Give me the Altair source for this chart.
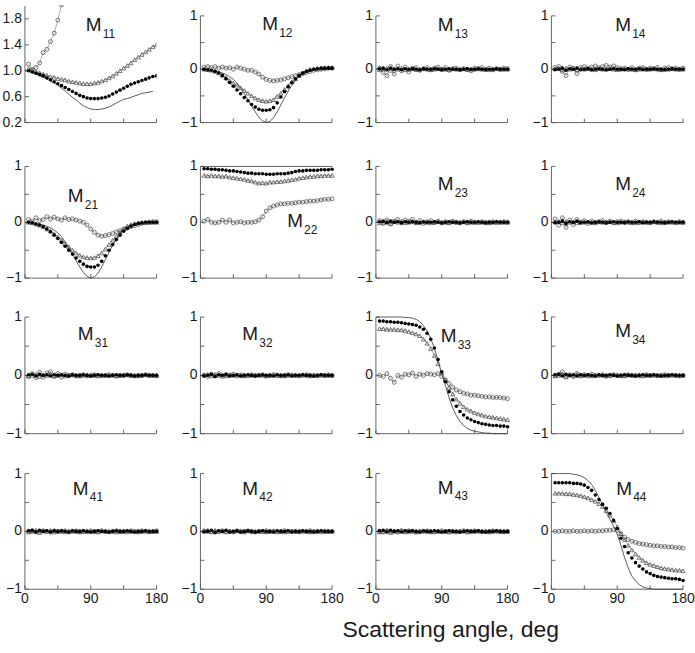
import altair as alt
import pandas as pd

# ---------------- data ----------------
ANG = [0, 5, 10, 15, 20, 25, 30, 35, 40, 45, 50, 55, 60, 65, 70, 75, 80, 85, 90,
       95, 100, 105, 110, 115, 120, 125, 130, 135, 140, 145, 150, 155, 160, 165, 170, 175, 180]
ANG_EXP = [5, 10, 15, 20, 25, 30, 35, 40, 45, 50, 55, 60, 65, 70, 75, 80, 85, 90,
           95, 100, 105, 110, 115, 120, 125, 130, 135, 140, 145, 150, 155, 160, 165, 170, 175, 180]
ANG_TH_M11 = ANG[:-1]
ANG_OPEN_M11 = [5, 10, 15, 20, 25, 30, 35, 40, 45, 50]

ZERO_TH = [0.0] * len(ANG)
ONE_TH = [1.0] * len(ANG)

TH_M11 = [1.00, 0.99, 0.97, 0.95, 0.92, 0.90, 0.87, 0.84, 0.81, 0.78, 0.73, 0.69, 0.64, 0.59, 0.55, 0.50,
          0.46, 0.43, 0.41, 0.40, 0.40, 0.41, 0.42, 0.44, 0.47, 0.50, 0.53, 0.56, 0.57, 0.59, 0.61, 0.63,
          0.65, 0.66, 0.67, 0.68]
FILLED_M11 = [1.00, 0.98, 0.96, 0.94, 0.92, 0.89, 0.86, 0.83, 0.80, 0.77, 0.74, 0.71, 0.68, 0.65, 0.62,
              0.60, 0.58, 0.57, 0.57, 0.57, 0.58, 0.59, 0.61, 0.64, 0.67, 0.70, 0.73, 0.76, 0.79, 0.81,
              0.83, 0.85, 0.87, 0.89, 0.91, 0.92]
TRI_M11 = [1.03, 1.01, 0.99, 0.97, 0.95, 0.93, 0.91, 0.90, 0.88, 0.87, 0.86, 0.84, 0.83, 0.82, 0.81, 0.80,
           0.80, 0.80, 0.81, 0.82, 0.84, 0.86, 0.89, 0.92, 0.96, 1.00, 1.04, 1.08, 1.12, 1.17, 1.21, 1.25,
           1.29, 1.33, 1.37, 1.40]
OPEN_M11 = [1.10, 1.02, 1.05, 1.12, 1.28, 1.33, 1.45, 1.58, 1.78, 2.02]

TH_M12 = [0.0, 0.0, -0.01, -0.02, -0.03, -0.05, -0.07, -0.10, -0.14, -0.19, -0.26, -0.35, -0.46, -0.57,
          -0.69, -0.80, -0.90, -0.97, -1.0, -0.98, -0.91, -0.80, -0.67, -0.54, -0.41, -0.30, -0.21, -0.14,
          -0.09, -0.05, -0.03, -0.02, -0.01, 0.0, 0.0, 0.0, 0.0]
FILLED_M12 = [0.0, -0.01, -0.02, -0.04, -0.07, -0.12, -0.18, -0.25, -0.32, -0.39, -0.46, -0.53, -0.59,
              -0.66, -0.71, -0.75, -0.77, -0.77, -0.76, -0.72, -0.63, -0.52, -0.42, -0.33, -0.25, -0.18,
              -0.12, -0.07, -0.04, -0.02, 0.0, 0.01, 0.02, 0.02, 0.02, 0.02]
TRI_M12 = [0.0, -0.01, -0.02, -0.04, -0.07, -0.11, -0.16, -0.21, -0.26, -0.30, -0.35, -0.40, -0.45, -0.50,
           -0.54, -0.57, -0.59, -0.60, -0.59, -0.57, -0.51, -0.45, -0.38, -0.31, -0.24, -0.18, -0.12, -0.07,
           -0.03, 0.0, 0.01, 0.02, 0.02, 0.03, 0.03, 0.03]
OPEN_M12 = [0.04, 0.05, 0.03, 0.05, 0.02, 0.04, 0.02, 0.03, 0.0, 0.04, 0.02, 0.0, -0.02, -0.02, -0.05,
            -0.09, -0.15, -0.19, -0.21, -0.22, -0.21, -0.20, -0.18, -0.16, -0.14, -0.12, -0.10, -0.08,
            -0.06, -0.04, -0.02, -0.01, 0.0, 0.01, 0.02, 0.02]

TH_M21 = [0.0, 0.0, -0.01, -0.02, -0.03, -0.05, -0.07, -0.10, -0.14, -0.19, -0.26, -0.35, -0.46, -0.57,
          -0.69, -0.80, -0.90, -0.97, -1.0, -0.98, -0.91, -0.80, -0.67, -0.54, -0.41, -0.30, -0.21, -0.14,
          -0.09, -0.05, -0.03, -0.02, -0.01, 0.0, 0.0, 0.0, 0.0]
FILLED_M21 = [0.0, -0.01, -0.03, -0.05, -0.08, -0.12, -0.17, -0.23, -0.29, -0.36, -0.43, -0.50, -0.57,
              -0.64, -0.70, -0.75, -0.79, -0.80, -0.80, -0.77, -0.70, -0.60, -0.50, -0.40, -0.31, -0.23,
              -0.16, -0.11, -0.07, -0.04, -0.02, -0.01, 0.0, 0.0, 0.0, 0.0]
TRI_M21 = [0.0, -0.01, -0.03, -0.05, -0.08, -0.12, -0.16, -0.21, -0.26, -0.32, -0.38, -0.44, -0.50, -0.55,
           -0.59, -0.62, -0.63, -0.64, -0.63, -0.60, -0.55, -0.48, -0.40, -0.32, -0.25, -0.18, -0.12, -0.07,
           -0.04, -0.02, -0.01, 0.0, 0.0, 0.0, 0.0, 0.0]
OPEN_M21 = [0.05, 0.02, 0.08, 0.03, 0.05, 0.10, 0.06, 0.09, 0.06, 0.04, 0.08, 0.05, 0.06, 0.04, 0.02, 0.0,
            -0.05, -0.12, -0.18, -0.23, -0.25, -0.24, -0.22, -0.20, -0.17, -0.15, -0.12, -0.10, -0.08,
            -0.06, -0.04, -0.02, -0.01, 0.0, 0.01, 0.01]

FILLED_M22 = [0.96, 0.96, 0.95, 0.95, 0.94, 0.94, 0.93, 0.92, 0.92, 0.91, 0.90, 0.89, 0.88, 0.88, 0.87,
              0.87, 0.87, 0.86, 0.86, 0.86, 0.87, 0.87, 0.87, 0.88, 0.89, 0.91, 0.92, 0.92, 0.93, 0.93,
              0.93, 0.93, 0.94, 0.94, 0.94, 0.95]
TRI_M22 = [0.84, 0.83, 0.84, 0.83, 0.83, 0.82, 0.83, 0.81, 0.80, 0.79, 0.78, 0.77, 0.75, 0.74, 0.72, 0.70,
           0.71, 0.70, 0.72, 0.72, 0.73, 0.73, 0.74, 0.75, 0.76, 0.77, 0.79, 0.80, 0.81, 0.82, 0.82, 0.83,
           0.83, 0.84, 0.84, 0.84]
OPEN_M22 = [0.02, 0.05, 0.0, -0.01, 0.0, 0.04, 0.0, 0.04, -0.01, 0.0, 0.01, -0.01, 0.0, 0.0, 0.01, 0.04,
            0.10, 0.20, 0.26, 0.29, 0.31, 0.33, 0.33, 0.34, 0.34, 0.35, 0.36, 0.36, 0.37, 0.38, 0.38, 0.39,
            0.40, 0.41, 0.41, 0.42]

TH_M33 = [1, 1, 1, 1, 1, 1, 1, 1, 0.99, 0.99, 0.98, 0.96, 0.92, 0.85, 0.76, 0.63, 0.46, 0.26, 0.03,
          -0.17, -0.38, -0.56, -0.69, -0.79, -0.86, -0.91, -0.94, -0.96, -0.97, -0.98, -0.99, -0.99, -1,
          -1, -1, -1, -1]
FILLED_M33 = [0.93, 0.93, 0.92, 0.92, 0.91, 0.91, 0.90, 0.89, 0.88, 0.87, 0.86, 0.83, 0.79, 0.72, 0.62,
              0.47, 0.27, 0.06, -0.11, -0.28, -0.42, -0.53, -0.62, -0.68, -0.73, -0.76, -0.79, -0.81,
              -0.83, -0.84, -0.85, -0.86, -0.86, -0.87, -0.87, -0.88]
TRI_M33 = [0.80, 0.80, 0.79, 0.79, 0.79, 0.78, 0.78, 0.77, 0.75, 0.73, 0.71, 0.68, 0.62, 0.55, 0.46, 0.34,
           0.20, 0.05, -0.08, -0.21, -0.32, -0.41, -0.48, -0.54, -0.58, -0.61, -0.64, -0.66, -0.68, -0.70,
           -0.71, -0.72, -0.73, -0.74, -0.75, -0.76]
OPEN_M33 = [0.0, -0.02, 0.03, -0.05, -0.12, 0.0, -0.03, 0.02, 0.01, 0.04, -0.02, 0.02, 0.0, 0.03, 0.02,
            0.01, 0.03, -0.02, -0.08, -0.14, -0.20, -0.25, -0.28, -0.31, -0.32, -0.34, -0.34, -0.35, -0.36,
            -0.37, -0.37, -0.38, -0.38, -0.38, -0.39, -0.40]

TH_M44 = [1, 1, 1, 1, 1, 1, 0.99, 0.98, 0.96, 0.93, 0.88, 0.81, 0.71, 0.59, 0.46, 0.33, 0.21, 0.09, -0.05,
          -0.24, -0.45, -0.63, -0.77, -0.86, -0.92, -0.96, -0.98, -0.99, -1, -1, -1, -1, -1, -1, -1, -1, -1]
FILLED_M44 = [0.84, 0.84, 0.84, 0.84, 0.84, 0.83, 0.83, 0.82, 0.80, 0.76, 0.71, 0.63, 0.55, 0.47, 0.40,
              0.31, 0.19, 0.05, -0.12, -0.26, -0.37, -0.46, -0.54, -0.60, -0.65, -0.70, -0.73, -0.76,
              -0.78, -0.79, -0.80, -0.81, -0.82, -0.82, -0.83, -0.85]
TRI_M44 = [0.66, 0.66, 0.66, 0.65, 0.65, 0.64, 0.63, 0.62, 0.60, 0.58, 0.55, 0.52, 0.48, 0.43, 0.36, 0.28,
           0.19, 0.08, -0.04, -0.14, -0.24, -0.32, -0.39, -0.45, -0.50, -0.54, -0.57, -0.59, -0.61, -0.63,
           -0.64, -0.65, -0.66, -0.67, -0.67, -0.68]
OPEN_M44 = [0.0, 0.0, 0.01, 0.0, 0.0, 0.01, 0.0, 0.0, 0.01, 0.0, 0.01, 0.0, 0.01, 0.01, 0.02, 0.02, 0.03,
            0.02, -0.04, -0.10, -0.14, -0.17, -0.19, -0.21, -0.22, -0.23, -0.24, -0.25, -0.25, -0.26,
            -0.26, -0.27, -0.27, -0.28, -0.28, -0.29]

NEAR0_FILLED = [0.01, 0.02, -0.01, 0.02, 0.0, 0.01, -0.01, 0.01, 0.0, 0.01, 0.0, -0.01, 0.01, 0.0, 0.0,
                0.01, 0.0, -0.01, 0.0, 0.01, 0.0, 0.0, -0.01, 0.0, 0.01, 0.0, 0.0, 0.01, 0.0, -0.01, 0.0,
                0.0, 0.01, 0.0, 0.0, 0.0]
NEAR0_TRI = [-0.01, 0.0, 0.02, -0.02, 0.01, 0.0, 0.02, -0.01, 0.0, 0.01, -0.01, 0.0, 0.01, 0.0, -0.01,
             0.0, 0.01, 0.0, 0.0, -0.01, 0.01, 0.0, 0.0, 0.01, -0.01, 0.0, 0.0, 0.01, 0.0, 0.0, -0.01, 0.0,
             0.01, 0.0, 0.0, 0.0]
OPEN_M13 = [0.02, -0.06, -0.12, 0.05, -0.09, 0.06, -0.03, 0.04, -0.05, 0.02, 0.03, -0.02, 0.01, 0.03,
            -0.01, 0.02, 0.04, 0.0, 0.03, -0.02, 0.01, 0.02, -0.01, 0.01, 0.0, -0.03, 0.02, 0.01, 0.03,
            0.0, 0.02, -0.01, 0.01, 0.0, 0.02, 0.01]
OPEN_M14 = [0.03, 0.05, -0.04, -0.12, 0.04, 0.02, -0.08, 0.03, 0.05, 0.02, 0.04, 0.06, 0.03, 0.05, 0.07,
            0.04, 0.06, 0.03, 0.01, 0.02, 0.0, 0.03, -0.01, 0.02, 0.03, 0.0, 0.02, 0.01, 0.03, -0.01, 0.02,
            0.03, 0.01, 0.02, 0.0, 0.02]
OPEN_M23 = [0.03, -0.02, 0.04, -0.03, 0.02, 0.05, -0.01, 0.04, 0.02, 0.05, 0.0, 0.03, -0.02, 0.01, 0.03,
            0.0, 0.02, -0.01, 0.01, 0.0, 0.02, 0.0, -0.01, 0.01, 0.0, 0.02, 0.0, -0.01, 0.01, 0.0, 0.0,
            0.01, -0.01, 0.0, 0.01, 0.0]
OPEN_M24 = [0.06, -0.05, 0.08, -0.09, 0.04, -0.04, 0.05, 0.0, 0.03, -0.02, 0.02, 0.0, 0.01, 0.03, 0.0,
            0.02, -0.01, 0.01, 0.02, 0.0, 0.01, -0.01, 0.02, 0.0, 0.01, 0.0, -0.01, 0.01, 0.0, 0.02, 0.0,
            0.01, 0.0, -0.01, 0.01, 0.0]
OPEN_M31 = [-0.02, 0.03, -0.04, 0.05, -0.03, 0.04, 0.06, -0.02, 0.03, -0.03, 0.02, 0.0, 0.01, -0.01, 0.0,
            0.01, -0.01, 0.0, 0.01, 0.0, -0.01, 0.0, 0.01, 0.0, -0.01, 0.0, 0.0, 0.01, 0.0, -0.01, 0.0,
            0.0, 0.01, 0.0, 0.0, -0.01]
OPEN_M32 = [0.0, -0.02, 0.02, -0.01, 0.03, -0.02, 0.01, 0.0, 0.02, -0.01, 0.01, 0.0, -0.01, 0.01, 0.0,
            0.0, 0.01, -0.01, 0.0, 0.01, 0.0, -0.01, 0.0, 0.01, 0.0, 0.0, -0.01, 0.0, 0.01, 0.0, 0.0,
            -0.01, 0.0, 0.0, 0.01, 0.0]
OPEN_M34 = [0.0, 0.02, 0.06, -0.03, 0.01, -0.02, 0.03, 0.0, 0.01, -0.01, 0.02, 0.0, 0.0, 0.01, -0.01,
            0.0, 0.01, 0.0, -0.01, 0.0, 0.01, 0.0, 0.0, -0.01, 0.0, 0.01, 0.0, 0.0, -0.01, 0.0, 0.01, 0.0,
            0.0, 0.0, -0.01, 0.0]
OPEN_M41 = [0.0, 0.01, -0.01, 0.0, 0.01, 0.0, -0.01, 0.01, 0.0, 0.0, 0.01, -0.01, 0.0, 0.01, 0.0, 0.0,
            -0.01, 0.01, 0.0, 0.0, 0.01, 0.0, -0.01, 0.0, 0.01, 0.0, 0.0, -0.01, 0.01, 0.0, 0.0, 0.01,
            0.0, -0.01, 0.0, 0.01]
OPEN_M42 = [0.01, 0.0, 0.0, -0.01, 0.0, 0.01, 0.0, 0.0, -0.01, 0.01, 0.0, 0.0, 0.01, 0.0, -0.01, 0.0,
            0.0, 0.01, 0.0, 0.0, -0.01, 0.0, 0.01, 0.0, 0.0, 0.0, -0.01, 0.0, 0.0, 0.01, 0.0, 0.0, -0.01,
            0.0, 0.0, 0.0]
OPEN_M43 = [0.0, -0.01, 0.01, 0.0, 0.0, -0.01, 0.01, 0.0, 0.01, 0.0, -0.01, 0.0, 0.0, 0.01, 0.0, -0.01,
            0.0, 0.01, 0.0, 0.0, 0.0, -0.01, 0.0, 0.01, 0.0, 0.0, 0.01, 0.0, -0.01, 0.0, 0.0, 0.01, 0.0,
            0.0, -0.01, 0.0]

PANELS = {
    "11": dict(th=(ANG_TH_M11, TH_M11), filled=FILLED_M11, tri=TRI_M11, open=(ANG_OPEN_M11, OPEN_M11)),
    "12": dict(th=(ANG, TH_M12), filled=FILLED_M12, tri=TRI_M12, open=(ANG_EXP, OPEN_M12)),
    "13": dict(th=(ANG, ZERO_TH), filled=NEAR0_FILLED, tri=NEAR0_TRI, open=(ANG_EXP, OPEN_M13)),
    "14": dict(th=(ANG, ZERO_TH), filled=NEAR0_TRI, tri=NEAR0_FILLED, open=(ANG_EXP, OPEN_M14)),
    "21": dict(th=(ANG, TH_M21), filled=FILLED_M21, tri=TRI_M21, open=(ANG_EXP, OPEN_M21)),
    "22": dict(th=(ANG, ONE_TH), filled=FILLED_M22, tri=TRI_M22, open=(ANG_EXP, OPEN_M22)),
    "23": dict(th=(ANG, ZERO_TH), filled=NEAR0_FILLED, tri=NEAR0_TRI, open=(ANG_EXP, OPEN_M23)),
    "24": dict(th=(ANG, ZERO_TH), filled=NEAR0_TRI, tri=NEAR0_FILLED, open=(ANG_EXP, OPEN_M24)),
    "31": dict(th=(ANG, ZERO_TH), filled=NEAR0_FILLED, tri=NEAR0_TRI, open=(ANG_EXP, OPEN_M31)),
    "32": dict(th=(ANG, ZERO_TH), filled=NEAR0_TRI, tri=NEAR0_FILLED, open=(ANG_EXP, OPEN_M32)),
    "33": dict(th=(ANG, TH_M33), filled=FILLED_M33, tri=TRI_M33, open=(ANG_EXP, OPEN_M33)),
    "34": dict(th=(ANG, ZERO_TH), filled=NEAR0_FILLED, tri=NEAR0_TRI, open=(ANG_EXP, OPEN_M34)),
    "41": dict(th=(ANG, ZERO_TH), filled=NEAR0_FILLED, tri=NEAR0_TRI, open=(ANG_EXP, OPEN_M41)),
    "42": dict(th=(ANG, ZERO_TH), filled=NEAR0_TRI, tri=NEAR0_FILLED, open=(ANG_EXP, OPEN_M42)),
    "43": dict(th=(ANG, ZERO_TH), filled=NEAR0_FILLED, tri=NEAR0_TRI, open=(ANG_EXP, OPEN_M43)),
    "44": dict(th=(ANG, TH_M44), filled=FILLED_M44, tri=TRI_M44, open=(ANG_EXP, OPEN_M44)),
}

X_TICKS = [0, 45, 90, 135, 180]
X_LABELS = [0, 90, 180]
X_LABEL_TEXT = ["0", "90", "180"]
Y_TICKS = [-1, -0.5, 0, 0.5, 1]
Y_LABELS = [-1, 0, 1]
Y_LABEL_TEXT = ["\u22121", "0", "1"]
Y_TICKS_M11 = [0.2, 0.6, 1.0, 1.4, 1.8]
Y_LABEL_TEXT_M11 = ["0.2", "0.6", "1.0", "1.4", "1.8"]
X_TITLE = "Scattering angle, deg"

# ---------------- styling / layout ----------------
W = 132
CELL_H = 118
ROW_H = [107, 112, 117, 116]          # height of the [-1, 1] plot area in each row
FONT = "Liberation Sans"
INK = "#1a1a1a"
AXC = "#555555"

# title position ("M" left edge, vertical centre) relative to the top of the plot area
TITLE_POS = {
    "11": (61, 19), "12": (62, 8), "13": (62, 9), "14": (64, 9),
    "21": (43, 30), "22": (87, 55), "23": (62, 18), "24": (64, 18),
    "31": (53, 17), "32": (42, 17), "33": (65, 19), "34": (64, 14),
    "41": (48, 15), "42": (42, 15), "43": (62, 14), "44": (65, 15),
}


def panel(key, plot_h, ydom=(-1, 1), ytick_vals=None, ylab_vals=None, ylab_text=None, xlab=False,
          clip=False, bottom_title=False):
    spec = PANELS[key]
    ytick_vals = ytick_vals or Y_TICKS
    ylab_vals = ylab_vals or Y_LABELS
    ylab_text = ylab_text or Y_LABEL_TEXT
    top = CELL_H - plot_h
    xs = alt.Scale(domain=[0, 180], nice=False, zero=False)
    ys = alt.Scale(domain=list(ydom), range=[CELL_H, top], nice=False, zero=False)

    def X(field="a:Q"):
        return alt.X(field, scale=xs, axis=None)

    def Y(field="v:Q"):
        return alt.Y(field, scale=ys, axis=None)

    # --- hand-made axes (driven by the scales) ---
    ydom_line = alt.Chart(pd.DataFrame({"a": [0], "v": [ydom[0]], "v2": [ydom[1]]})).mark_rule(
        color=AXC, strokeWidth=0.9).encode(x=X(), y=Y(), y2="v2:Q")
    xdom_line = alt.Chart(pd.DataFrame({"a": [0], "a2": [180], "v": [ydom[0]]})).mark_rule(
        color=AXC, strokeWidth=0.9).encode(x=X(), x2="a2:Q", y=Y())
    ytk = alt.Chart(pd.DataFrame({"v": ytick_vals})).mark_rule(color=AXC, strokeWidth=0.9).encode(
        y=Y(), x=alt.value(0), x2=alt.value(4))
    xtk = alt.Chart(pd.DataFrame({"a": X_TICKS})).mark_rule(color=AXC, strokeWidth=0.9).encode(
        x=X(), y=alt.value(CELL_H), y2=alt.value(CELL_H - 4))
    ylab = alt.Chart(pd.DataFrame({"v": ylab_vals, "t": ylab_text})).mark_text(
        font=FONT, fontSize=14, color=INK, align="right", baseline="middle", dx=-3).encode(
        y=Y(), x=alt.value(0), text="t:N")
    layers = [ydom_line, xdom_line, ytk, xtk, ylab]
    if xlab:
        layers.append(alt.Chart(pd.DataFrame({"a": X_LABELS, "t": X_LABEL_TEXT})).mark_text(
            font=FONT, fontSize=14, color=INK, align="center", baseline="top", dy=3).encode(
            x=X(), y=alt.value(CELL_H), text="t:N"))

    # --- data ---
    th_a, th_v = spec["th"]
    op_a, op_v = spec["open"]
    th_df = pd.DataFrame({"a": th_a, "v": th_v})
    op_df = pd.DataFrame({"a": op_a, "v": op_v})
    tr_df = pd.DataFrame({"a": ANG_EXP, "v": spec["tri"]})
    fi_df = pd.DataFrame({"a": ANG_EXP, "v": spec["filled"]})

    th = alt.Chart(th_df).mark_line(color="#333333", strokeWidth=0.8, clip=clip).encode(x=X(), y=Y())
    opl = alt.Chart(op_df).mark_line(color="#777777", strokeWidth=0.6, clip=clip).encode(x=X(), y=Y())
    opp = alt.Chart(op_df).mark_point(shape="circle", filled=False, size=16, strokeWidth=0.7,
                                      color="#444444", opacity=1, clip=clip).encode(x=X(), y=Y())
    trl = alt.Chart(tr_df).mark_line(color="#777777", strokeWidth=0.6, clip=clip).encode(x=X(), y=Y())
    trp = alt.Chart(tr_df).mark_point(shape="triangle-up", filled=False, size=18, strokeWidth=0.7,
                                      color="#444444", opacity=1, clip=clip).encode(x=X(), y=Y())
    fip = alt.Chart(fi_df).mark_point(shape="circle", filled=True, size=13, color="#000000",
                                      opacity=1, clip=clip).encode(x=X(), y=Y())
    layers += [th, opl, trl, opp, trp, fip]

    # --- panel label M_ij ---
    tx, ty = TITLE_POS[key]
    ty = ty + top
    one = pd.DataFrame({"t": ["M"]})
    layers.append(alt.Chart(one).mark_text(text="M", font=FONT, fontSize=19, color=INK, align="left",
                                           baseline="middle").encode(x=alt.value(tx), y=alt.value(ty)))
    layers.append(alt.Chart(one).mark_text(text=key, font=FONT, fontSize=12, color=INK, align="left",
                                           baseline="middle").encode(x=alt.value(tx + 17),
                                                                     y=alt.value(ty + 9)))
    if bottom_title:
        layers.append(alt.Chart(one).mark_text(text=X_TITLE, font=FONT, fontSize=23,
                                               color=INK, align="center", baseline="middle")
                      .encode(x=alt.value(427), y=alt.value(CELL_H + 41)))
    return alt.layer(*layers).properties(width=W, height=CELL_H)


panels = [
    panel("11", ROW_H[0] + 10, ydom=(0.2, 2.0), ytick_vals=Y_TICKS_M11, ylab_vals=Y_TICKS_M11,
          ylab_text=Y_LABEL_TEXT_M11, clip=True),
    panel("12", ROW_H[0]), panel("13", ROW_H[0]), panel("14", ROW_H[0]),
    panel("21", ROW_H[1]), panel("22", ROW_H[1]), panel("23", ROW_H[1]), panel("24", ROW_H[1]),
    panel("31", ROW_H[2]), panel("32", ROW_H[2]), panel("33", ROW_H[2]), panel("34", ROW_H[2]),
    panel("41", ROW_H[3], xlab=True, bottom_title=True), panel("42", ROW_H[3], xlab=True),
    panel("43", ROW_H[3], xlab=True), panel("44", ROW_H[3], xlab=True),
]

chart = alt.concat(
    *panels, columns=4, spacing={"row": 38, "column": 44}, bounds="flush"
).properties(
    padding={"left": 2, "top": 4, "right": 0, "bottom": 0},
    background="white",
).configure_view(stroke=None, strokeWidth=0)

chart.save("out.html", embed_options={"renderer": "svg", "actions": False})
